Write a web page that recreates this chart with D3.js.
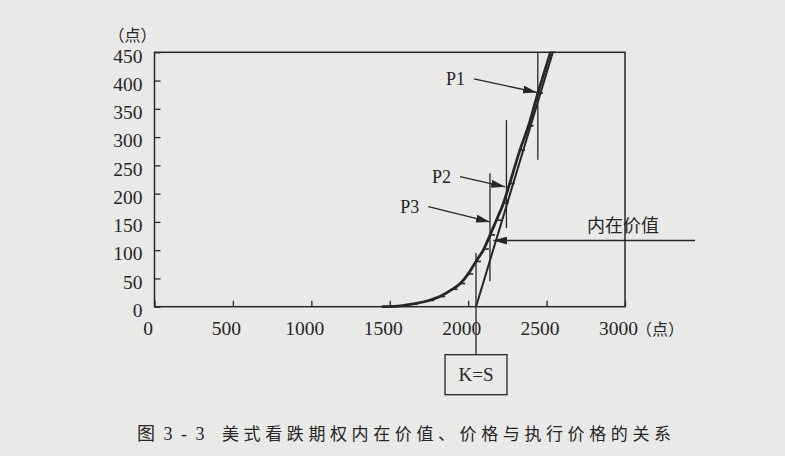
<!DOCTYPE html>
<html><head><meta charset="utf-8">
<script src="https://cdn.jsdelivr.net/npm/d3@7"></script>
<style>
html,body{margin:0;padding:0;background:#e9e9e7;}
svg{display:block;}
</style></head><body>
<svg id="c" width="785" height="456"></svg>
<script>
// ---- data ----
const xTicks = [0, 500, 1000, 1500, 2000, 2500, 3000];
const yTicks = [0, 50, 100, 150, 200, 250, 300, 350, 400, 450];
const unitLabel = "（点）";
const strike = 2050;
const strikeLabel = "K=S";
const intrinsicValue = [[2050, 0], [2540, 450]];
const optionPrice = [[1450, 0], [1550, 1], [1650, 5], [1750, 11], [1820, 18], [1900, 31], [1950, 41], [2000, 58],
  [2050, 80], [2100, 102], [2140, 127], [2180, 153], [2225, 183], [2265, 218], [2330, 277], [2385, 320],
  [2445, 378], [2525, 450]];
const pNames = ["P1", "P2", "P3"];
const pLevels = [2444, 2244, 2139];          // index level of each vertical marker
const pRanges = [[260, 450], [139, 330], [45, 236]];
const pArrowFrom = [[2037, 403], [1948, 230], [1746, 177]];
const pArrowTo = [[2439, 379], [2235, 212], [2139, 150]];
const ivLabel = "内在价值";
const ivArrowFrom = [3447, 117];
const ivArrowTo = [2160, 117];
const strikeTop = 95;
const caption = ["图 3 - 3", "美式看跌期权内在价值、价格与执行价格的关系"];

// ---- drawing ----
const ink = "#262626";
const serif = "'Liberation Serif','Times New Roman',serif";
const cjk = "'Noto Sans CJK SC','Noto Sans CJK JP',sans-serif";
const svg = d3.select("#c");
svg.append("rect").attr("width", 785).attr("height", 456).attr("fill", "#e9e9e7");
const x = d3.scaleLinear().domain([0, 3000]).range([154.5, 625]);
const y = d3.scaleLinear().domain([0, 450]).range([306.7, 52.3]);

svg.append("defs").append("marker")
  .attr("id", "ah").attr("markerUnits", "userSpaceOnUse")
  .attr("viewBox", "0 0 14 8").attr("refX", 14).attr("refY", 4)
  .attr("markerWidth", 14).attr("markerHeight", 8).attr("orient", "auto")
  .append("path").attr("d", "M0,0L14,4L0,8Z").attr("fill", ink);

// axes
const fmt = d3.format("d");
const gy = svg.append("g").attr("transform", `translate(${x(0)},0)`)
  .call(d3.axisLeft(y).tickValues(yTicks).tickFormat(fmt).tickSize(-6).tickPadding(12));
const gx = svg.append("g").attr("transform", `translate(0,${y(0)})`)
  .call(d3.axisBottom(x).tickValues(xTicks).tickFormat(fmt).tickSize(-6).tickPadding(14));
[gx, gy].forEach(g => {
  g.select(".domain").remove();
  g.selectAll(".tick line").attr("stroke", ink).attr("stroke-width", 1.3);
  g.selectAll("text").attr("fill", ink).style("font-family", serif).style("font-size", "19.5px");
});
gy.selectAll("text").attr("dy", "0.5em");
gx.selectAll("text").attr("dx", -7);

// frame
svg.append("rect").attr("x", x(0)).attr("y", y(450)).attr("width", x(3000) - x(0)).attr("height", y(0) - y(450))
  .attr("fill", "none").attr("stroke", ink).attr("stroke-width", 1.5);

// units
svg.append("text").attr("x", x(3000) + 11).attr("y", y(0) + 28).text(unitLabel)
  .attr("fill", ink).style("font-family", cjk).style("font-size", "16px");
svg.append("text").attr("x", x(0) - 46).attr("y", y(450) - 11).text(unitLabel)
  .attr("fill", ink).style("font-family", cjk).style("font-size", "16px");

// intrinsic value line
const line = d3.line().x(d => x(d[0])).y(d => y(d[1]));
svg.append("path").datum(intrinsicValue).attr("d", line)
  .attr("fill", "none").attr("stroke", ink).attr("stroke-width", 2);

// option price curve
svg.append("path").datum(optionPrice).attr("d", line.curve(d3.curveMonotoneX))
  .attr("fill", "none").attr("stroke", ink).attr("stroke-width", 2.8).attr("stroke-linejoin", "round");
svg.selectAll(".mk").data(optionPrice.slice(1)).join("line").attr("class", "mk")
  .attr("x1", d => x(d[0]) - 1).attr("x2", d => x(d[0]) + 5)
  .attr("y1", d => y(d[1])).attr("y2", d => y(d[1]))
  .attr("stroke", ink).attr("stroke-width", 1.6);

// P markers
pNames.forEach((name, i) => {
  svg.append("line").attr("x1", x(pLevels[i])).attr("x2", x(pLevels[i]))
    .attr("y1", y(pRanges[i][0])).attr("y2", y(pRanges[i][1]))
    .attr("stroke", ink).attr("stroke-width", 1.3);
  svg.append("line").attr("x1", x(pArrowFrom[i][0])).attr("y1", y(pArrowFrom[i][1]))
    .attr("x2", x(pArrowTo[i][0])).attr("y2", y(pArrowTo[i][1]))
    .attr("stroke", ink).attr("stroke-width", 1.4).attr("marker-end", "url(#ah)");
  svg.append("text").attr("x", x(pArrowFrom[i][0]) - 9).attr("y", y(pArrowFrom[i][1]) + 6)
    .attr("text-anchor", "end").text(name)
    .attr("fill", ink).style("font-family", serif).style("font-size", "18px");
});

// intrinsic value annotation
svg.append("line").attr("x1", x(ivArrowFrom[0])).attr("y1", y(ivArrowFrom[1]))
  .attr("x2", x(ivArrowTo[0])).attr("y2", y(ivArrowTo[1]))
  .attr("stroke", ink).attr("stroke-width", 1.4).attr("marker-end", "url(#ah)");
svg.append("text").attr("x", x(ivArrowFrom[0]) - 108).attr("y", y(ivArrowTo[1]) - 9).text(ivLabel)
  .attr("fill", ink).style("font-family", cjk).style("font-size", "18px");

// strike marker
const boxTop = y(0) + 48, boxW = 62, boxH = 40;
svg.append("line").attr("x1", x(strike)).attr("x2", x(strike)).attr("y1", y(strikeTop)).attr("y2", boxTop)
  .attr("stroke", ink).attr("stroke-width", 1.3);
svg.append("rect").attr("x", x(strike) - boxW / 2).attr("y", boxTop).attr("width", boxW).attr("height", boxH)
  .attr("fill", "none").attr("stroke", ink).attr("stroke-width", 1.3);
svg.append("text").attr("x", x(strike)).attr("y", boxTop + boxH / 2 + 6).attr("text-anchor", "middle").text(strikeLabel)
  .attr("fill", ink).style("font-family", serif).style("font-size", "19px");

// caption
svg.append("text").attr("x", 137).attr("y", 440).text(caption[0]).attr("fill", ink)
  .style("font-family", serif + "," + cjk).style("font-size", "18px").style("letter-spacing", "2px");
svg.append("text").attr("x", 222).attr("y", 440).text(caption[1]).attr("fill", ink)
  .style("font-family", cjk).style("font-size", "17px").style("letter-spacing", "4.6px");
</script>
</body></html>
